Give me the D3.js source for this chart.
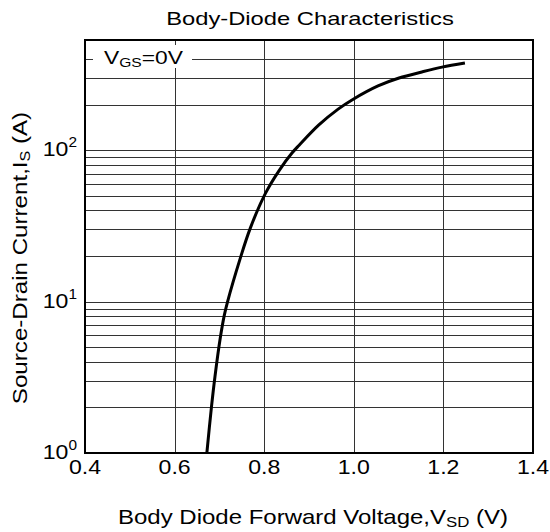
<!DOCTYPE html>
<html lang="en">
<head>
  <meta charset="UTF-8">
  <title>Body-Diode Characteristics</title>
  <script src="https://d3js.org/d3.v7.min.js"></script>
  <style>
    body { margin: 0; background: #fff; }
    text { font-family: "Liberation Sans", Arial, sans-serif; fill: #000; }
  </style>
</head>
<body>
<svg width="550" height="532"></svg>
<script>
// curve
var vsd = [0.672, 0.682, 0.690, 0.702, 0.711, 0.718, 0.746, 0.769, 0.803, 0.834, 0.862, 0.878, 0.922, 0.965, 0.996, 1.054, 1.101, 1.152, 1.197, 1.248];
var isd = [1.0, 1.98, 3.18, 5.77, 8.15, 9.94, 19.1, 30.6, 52.1, 74.0, 95.8, 108, 147, 187, 215, 266, 300, 329, 354, 377];

var xTicks = [0.4, 0.6, 0.8, 1.0, 1.2, 1.4];
var yTicks = [1, 10, 100];
var yExp = ["0", "1", "2"];
// minor grid lines
var yGrid = [2, 3, 4, 5, 6, 7, 8, 9, 10, 20, 30, 40, 50, 60, 70, 80, 90, 100, 200, 300, 400];

var svg = d3.select("svg");
var pL = 85, pR = 533, pT = 40, pB = 453;
var sx = 1.2; // the text in the picture is a bit wide

var x = d3.scaleLinear().domain([0.4, 1.4]).range([pL, pR]);
var y = d3.scaleLog().domain([1, 535]).range([pB, pT]);

// grid
var grid = svg.append("g").attr("stroke", "#333").attr("stroke-width", 1).attr("shape-rendering", "crispEdges");
grid.selectAll(".hg").data(yGrid).enter().append("line")
  .attr("x1", pL).attr("x2", pR)
  .attr("y1", function(d){ return Math.round(y(d)) + 0.5; })
  .attr("y2", function(d){ return Math.round(y(d)) + 0.5; });
grid.selectAll(".vg").data(xTicks.slice(1, -1)).enter().append("line")
  .attr("y1", pT).attr("y2", pB)
  .attr("x1", function(d){ return Math.round(x(d)) + 0.5; })
  .attr("x2", function(d){ return Math.round(x(d)) + 0.5; });

// label box for VGS
svg.append("rect").attr("x", 93).attr("y", 45).attr("width", 99).attr("height", 23).attr("fill", "#fff");
var vgs = svg.append("text").attr("transform", "translate(104,64) scale(" + sx + ",1)").attr("font-size", 19);
vgs.append("tspan").text("V");
vgs.append("tspan").attr("font-size", 13).attr("dy", 3).text("GS");
vgs.append("tspan").attr("dy", -3).text("=0V");

// frame
svg.append("rect").attr("x", pL).attr("y", pT).attr("width", pR - pL).attr("height", pB - pT)
  .attr("fill", "none").attr("stroke", "#000").attr("stroke-width", 2);

// curve
var line = d3.line()
  .x(function(d, i){ return x(vsd[i]); })
  .y(function(d, i){ return y(isd[i]); })
  .curve(d3.curveCatmullRom.alpha(0.5));
svg.append("path").datum(vsd)
  .attr("fill", "none").attr("stroke", "#000").attr("stroke-width", 3)
  .attr("stroke-linejoin", "round")
  .attr("d", line);

// x tick labels
svg.selectAll(".xt").data(xTicks).enter().append("text")
  .attr("transform", function(d){ return "translate(" + x(d) + ",474) scale(1.1,1)"; })
  .attr("text-anchor", "middle").attr("font-size", 21)
  .text(function(d){ return d.toFixed(1); });

// y tick labels
yTicks.forEach(function(d, i){
  var t = svg.append("text").attr("transform", "translate(77," + (y(d) + 6) + ") scale(1.1,1)")
    .attr("text-anchor", "end").attr("font-size", 21);
  t.append("tspan").text("10");
  t.append("tspan").attr("font-size", 14).attr("dy", -9).text(yExp[i]);
});

// title
svg.append("text").attr("transform", "translate(310,25) scale(1.25,1)").attr("text-anchor", "middle")
  .attr("font-size", 19).text("Body-Diode Characteristics");

// x axis title
var xt = svg.append("text").attr("transform", "translate(313,524) scale(" + sx + ",1)")
  .attr("text-anchor", "middle").attr("font-size", 20);
xt.append("tspan").text("Body Diode Forward Voltage,V");
xt.append("tspan").attr("font-size", 14).attr("dy", 3).text("SD");
xt.append("tspan").attr("dy", -3).text(" (V)");

// y axis title
var yt = svg.append("text").attr("transform", "translate(27,258) rotate(-90) scale(1.15,1)")
  .attr("text-anchor", "middle").attr("font-size", 21);
yt.append("tspan").text("Source-Drain Current,I");
yt.append("tspan").attr("font-size", 14).attr("dy", 3).text("S");
yt.append("tspan").attr("dy", -3).text(" (A)");
</script>
</body>
</html>
